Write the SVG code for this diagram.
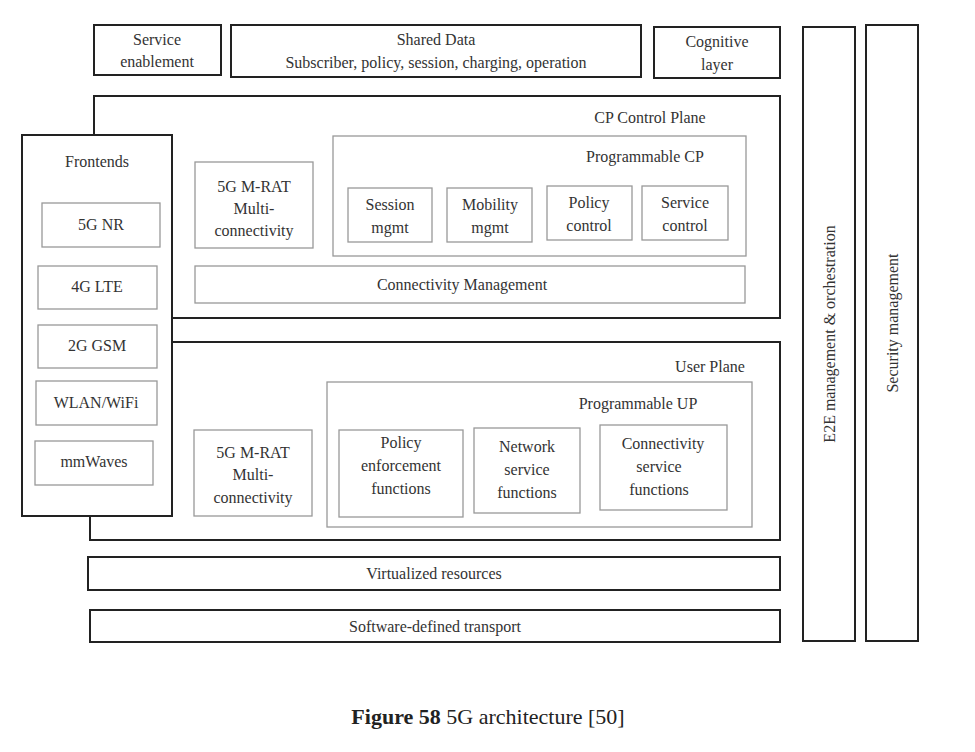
<svg xmlns="http://www.w3.org/2000/svg" width="975" height="752" viewBox="0 0 975 752">
<style>
text{font-family:"Liberation Serif",serif;font-size:16px;fill:#333;text-anchor:middle}
.o{fill:#fff;stroke:#222;stroke-width:2}
.i{fill:#fff;stroke:#999;stroke-width:1.3}
</style>
<rect width="975" height="752" fill="#fff"/>
<g id="service"><rect class="o" x="94" y="25" width="127" height="50"/><text x="157" y="45">Service</text><text x="157" y="67">enablement</text></g>
<g id="shared"><rect class="o" x="231" y="25" width="410" height="52"/><text x="436" y="45">Shared Data</text><text x="436" y="68">Subscriber, policy, session, charging,  operation</text></g>
<g id="cognitive"><rect class="o" x="654" y="27" width="126" height="51"/><text x="717" y="47">Cognitive</text><text x="717" y="70">layer</text></g>
<g id="e2e"><rect class="o" x="803" y="27" width="52" height="614"/><text transform="translate(835,334) rotate(-90)">E2E management  &amp; orchestration</text></g>
<g id="security"><rect class="o" x="866" y="25" width="52" height="616"/><text transform="translate(898,323) rotate(-90)">Security management</text></g>
<g id="cp"><rect class="o" x="94" y="96" width="686" height="222"/><text x="650" y="123">CP Control Plane</text></g>
<g id="progcp"><rect class="i" x="333" y="136" width="413" height="120"/><text x="645" y="162">Programmable CP</text></g>
<g id="session"><rect class="i" x="348" y="188" width="84" height="54"/><text x="390" y="210">Session</text><text x="390" y="233">mgmt</text></g>
<g id="mobility"><rect class="i" x="447" y="188" width="85" height="54"/><text x="490" y="210">Mobility</text><text x="490" y="233">mgmt</text></g>
<g id="policyc"><rect class="i" x="547" y="186" width="85" height="54"/><text x="589" y="208">Policy</text><text x="589" y="231">control</text></g>
<g id="servicec"><rect class="i" x="642" y="186" width="86" height="54"/><text x="685" y="208">Service</text><text x="685" y="231">control</text></g>
<g id="mrat1"><rect class="i" x="195" y="162" width="118" height="86"/><text x="254" y="192">5G M-RAT</text><text x="254" y="214">Multi-</text><text x="254" y="236">connectivity</text></g>
<g id="connmgmt"><rect class="i" x="195" y="266" width="550" height="37"/><text x="462" y="290">Connectivity  Management</text></g>
<g id="up"><rect class="o" x="90" y="342" width="690" height="198"/><text x="710" y="372">User Plane</text></g>
<g id="progup"><rect class="i" x="327" y="382" width="425" height="145"/><text x="638" y="409">Programmable UP</text></g>
<g id="policye"><rect class="i" x="339" y="430" width="124" height="87"/><text x="401" y="448">Policy</text><text x="401" y="471">enforcement</text><text x="401" y="494">functions</text></g>
<g id="netsvc"><rect class="i" x="474" y="428" width="106" height="85"/><text x="527" y="452">Network</text><text x="527" y="475">service</text><text x="527" y="498">functions</text></g>
<g id="connsvc"><rect class="i" x="600" y="425" width="127" height="85"/><text x="663" y="449">Connectivity</text><text x="659" y="472">service</text><text x="659" y="495">functions</text></g>
<g id="mrat2"><rect class="i" x="194" y="430" width="118" height="86"/><text x="253" y="458">5G M-RAT</text><text x="253" y="480">Multi-</text><text x="253" y="503">connectivity</text></g>
<g id="frontends"><rect class="o" x="22" y="135" width="150" height="381"/><text x="97" y="167">Frontends</text></g>
<g id="nr"><rect class="i" x="42" y="203" width="118" height="44"/><text x="101" y="230">5G NR</text></g>
<g id="lte"><rect class="i" x="38" y="266" width="119" height="43"/><text x="97" y="292">4G LTE</text></g>
<g id="gsm"><rect class="i" x="38" y="325" width="119" height="43"/><text x="97" y="351">2G GSM</text></g>
<g id="wlan"><rect class="i" x="36" y="381" width="121" height="44"/><text x="96" y="408">WLAN/WiFi</text></g>
<g id="mmw"><rect class="i" x="35" y="441" width="118" height="44"/><text x="94" y="467">mmWaves</text></g>
<g id="virt"><rect class="o" x="88" y="557" width="692" height="33"/><text x="434" y="579">Virtualized resources</text></g>
<g id="sdt"><rect class="o" x="90" y="610" width="690" height="32"/><text x="435" y="632">Software-defined transport</text></g>
<g id="connectors"></g>
<text x="488" y="724" style="font-size:22px;fill:#222"><tspan font-weight="bold">Figure 58</tspan> 5G architecture [50]</text>
</svg>
